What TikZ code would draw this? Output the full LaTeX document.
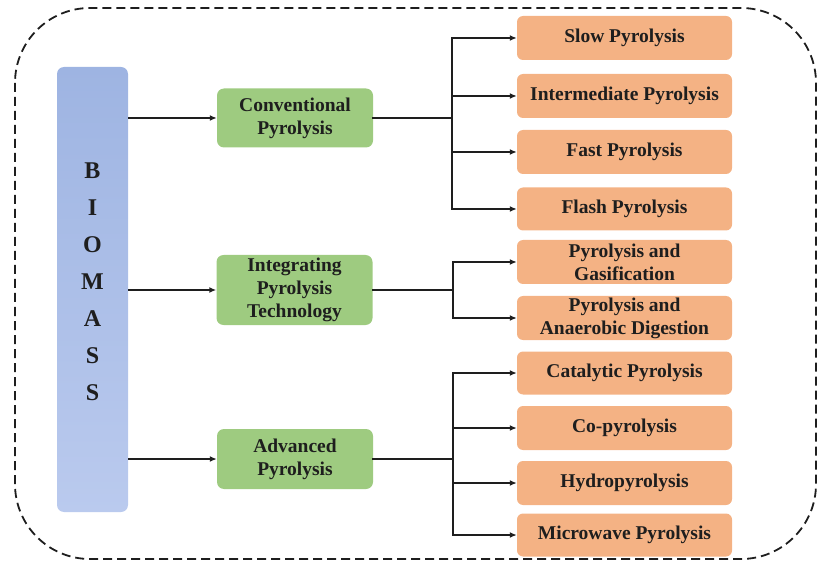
\documentclass[tikz,border=0pt]{standalone}
\usepackage{fontspec}
\setmainfont{Liberation Serif}
\usetikzlibrary{arrows.meta}
\definecolor{biotop}{RGB}{158,180,226}
\definecolor{biobot}{RGB}{186,202,238}
\definecolor{methodgreen}{RGB}{158,203,128}
\definecolor{variantorange}{RGB}{244,178,132}
\definecolor{inkdark}{RGB}{30,30,30}
\begin{document}
\begin{tikzpicture}[x=1pt,y=-1pt,
		biobox/.style={rounded corners=7pt, top color=biotop, bottom color=biobot, draw=none,
			minimum width=71pt, minimum height=445pt, inner sep=0pt},
		method/.style={fill=methodgreen, rounded corners=7pt, minimum width=156pt, inner sep=0pt,
			align=center, text=inkdark, font=\fontsize{19.5}{23}\selectfont\bfseries},
		variant/.style={fill=variantorange, rounded corners=6pt, minimum width=215pt, minimum height=44pt,
			inner sep=0pt, align=center, text=inkdark, font=\fontsize{19.5}{23}\selectfont\bfseries},
		link/.style={line width=1.7pt, inkdark, -{Latex[length=7pt,width=6pt]}},
		tree/.style={line width=1.7pt, inkdark, line cap=rect}]
	\useasboundingbox (0,0) rectangle (817,564);
	% outer frame
	\draw[inkdark, line width=1.8pt, dash pattern=on 9pt off 5pt, rounded corners=75pt] (15,8) rectangle (816,559);
	% biomass column
	\node[biobox] (bio) at (92.5,289.5) {};
	\node[font=\fontsize{24}{37}\selectfont\bfseries, align=center, text=inkdark] (biotxt) at ([yshift=8pt]bio.center) {B\\I\\O\\M\\A\\S\\S};
	% pyrolysis routes
	\node[method, minimum height=59pt] (conv) at (295,118) {Conventional\\Pyrolysis};
	\node[method, minimum height=70pt] (integ) at (294.5,290) {Integrating\\Pyrolysis\\Technology};
	\node[method, minimum height=60pt] (adv) at (295,459) {Advanced\\Pyrolysis};
	% variants
	\node[variant] (slow) at (624.5,38) {Slow Pyrolysis};
	\node[variant] (inter) at (624.5,96) {Intermediate Pyrolysis};
	\node[variant] (fast) at (624.5,152) {Fast Pyrolysis};
	\node[variant, minimum height=43pt] (flash) at (624.5,209) {Flash Pyrolysis};
	\node[variant] (gasif) at (624.5,262) {Pyrolysis and\\Gasification};
	\node[variant] (anaer) at (624.5,318) {Pyrolysis and\\Anaerobic Digestion};
	\node[variant, minimum height=43pt] (catal) at (624.5,373) {Catalytic Pyrolysis};
	\node[variant] (copyr) at (624.5,428) {Co-pyrolysis};
	\node[variant] (hydro) at (624.5,483) {Hydropyrolysis};
	\node[variant, minimum height=43pt] (micro) at (624.5,535) {Microwave Pyrolysis};
	% biomass to routes
	\draw[link] (bio.east |- conv) -- (conv.west);
	\draw[link] (bio.east |- integ) -- (integ.west);
	\draw[link] (bio.east |- adv) -- (adv.west);
	% branching
	\coordinate (convj) at (452,118);
	\coordinate (integj) at (453,290);
	\coordinate (advj) at (453,459);
	\draw[tree] (conv.east) -- (conv.east -| convj);
	\draw[tree] (convj |- slow) -- (convj |- flash);
	\foreach \v in {slow,inter,fast,flash}
		\draw[link] (convj |- \v) -- (\v.west);
	\draw[tree] (integ.east) -- (integ.east -| integj);
	\draw[tree] (integj |- gasif) -- (integj |- anaer);
	\foreach \v in {gasif,anaer}
		\draw[link] (integj |- \v) -- (\v.west);
	\draw[tree] (adv.east) -- (adv.east -| advj);
	\draw[tree] (advj |- catal) -- (advj |- micro);
	\foreach \v in {catal,copyr,hydro,micro}
		\draw[link] (advj |- \v) -- (\v.west);
\end{tikzpicture}
\end{document}
